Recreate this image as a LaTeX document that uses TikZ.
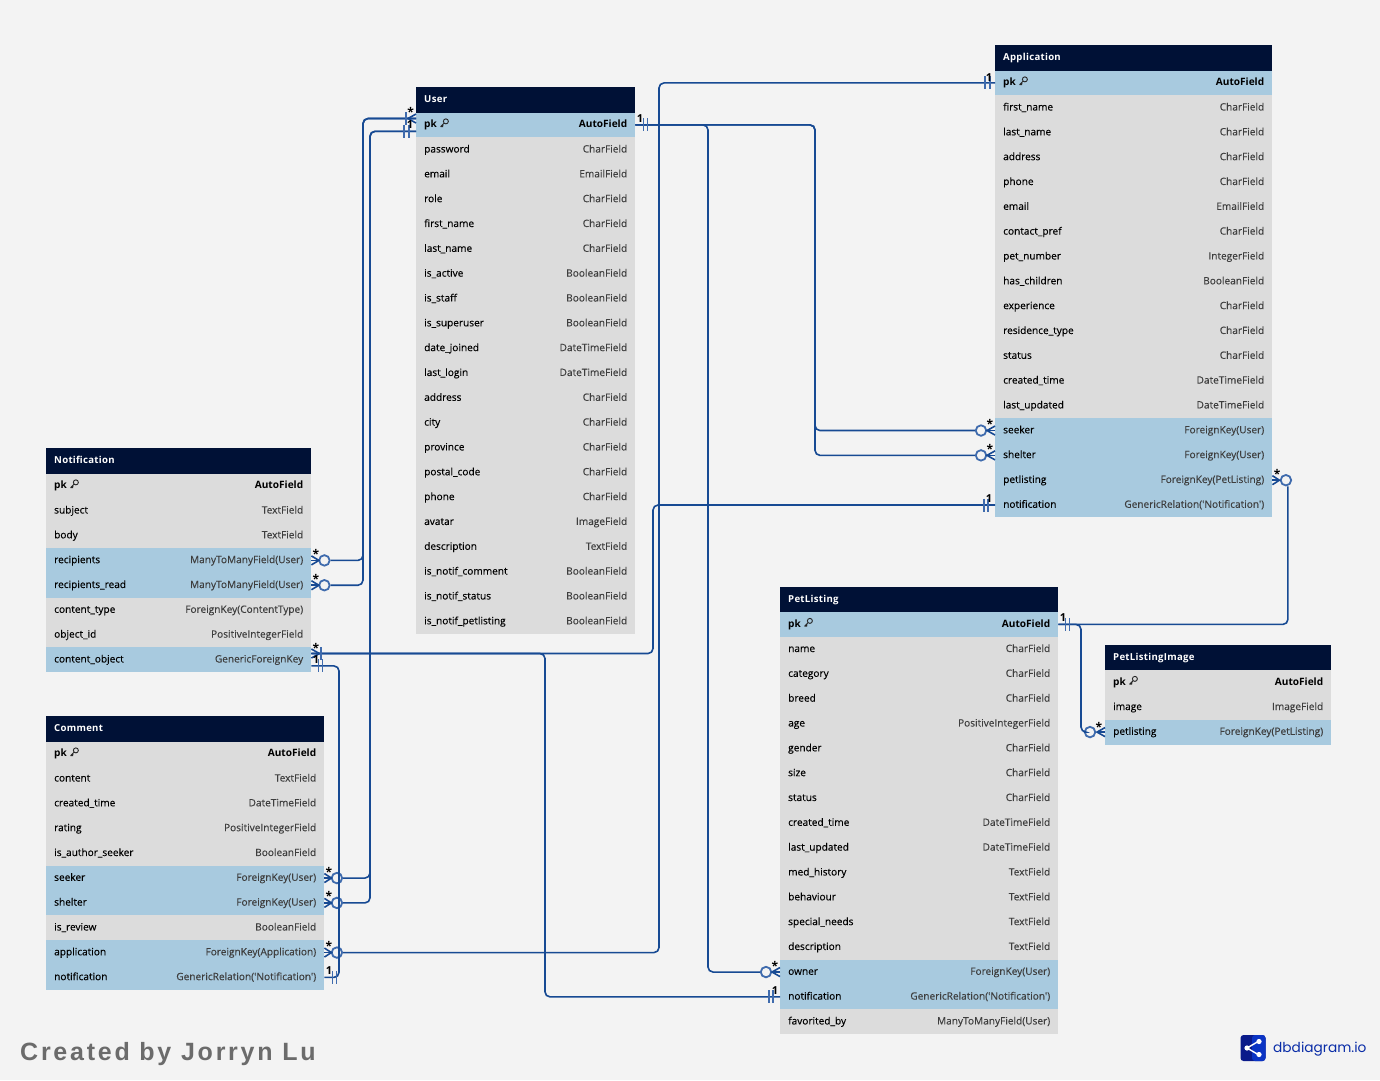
\documentclass[tikz,border=0pt]{standalone}
\usepackage{fontspec}
\usepackage{xcolor}
\usepackage{tikz}
\usetikzlibrary{positioning}
\newfontfamily\dbfont[UprightFeatures={FakeBold=0.25}]{Open Sans}
\newfontfamily\dbheadfont[LetterSpace=3]{Open Sans}
\newfontfamily\markfont[LetterSpace=11]{Liberation Sans}
\newfontfamily\logofont{Poppins}
\definecolor{pagebg}{HTML}{F3F3F3}
\definecolor{headbg}{HTML}{001136}
\definecolor{rowgray}{HTML}{DCDCDC}
\definecolor{rowblue}{HTML}{A8CADF}
\definecolor{typegray}{HTML}{3E3E3E}
\definecolor{relblue}{HTML}{174A93}
\definecolor{markblue}{HTML}{3F6BAD}
\definecolor{logodark}{HTML}{0A1A8A}
\definecolor{logoblue}{HTML}{0B34C4}
\tikzset{
    node distance = 24.83pt,                    % One table row
    dbrow/.style={rectangle, inner xsep=8pt, inner ysep=0pt, minimum height=24.83pt,
        text height=8pt, text depth=2.5pt, text=black, font=\dbfont\fontsize{10.1}{12}\selectfont},
    rowg/.style={dbrow, fill=rowgray},
    rowb/.style={dbrow, fill=rowblue},
    dbhead/.style={dbrow, fill=headbg, text=white, anchor=west, minimum height=25.5pt,
        font=\dbheadfont\bfseries\fontsize{9.6}{12}\selectfont},
    rel/.style={draw=relblue, line width=1.6pt, rounded corners=5pt},
    barline/.style={draw=markblue, line width=1.8pt},
    optmark/.style={circle, draw=markblue, fill=pagebg, line width=1.8pt, minimum size=10.5pt, inner sep=0pt},
    card/.style={inner sep=0pt, text=black, font=\dbfont\bfseries\fontsize{11}{12}\selectfont},
    cardstar/.style={card, anchor=north, font=\dbfont\bfseries\fontsize{12}{12}\selectfont}
}
\newcommand{\ty}[1]{\textcolor{typegray}{#1}}
\newcommand{\keyicon}{\tikz[baseline=-0.5pt, x=1pt, y=1pt]{\draw[black!85, line width=0.9pt, line join=round]
    (6.2,5.8) circle (2.5pt) (4.5,4) -- (1,0.5) -- (3.4,0.5) (2.2,1.7) -- (3.8,1.7);}}
\newcommand{\crowmark}[2]{\draw[rel, sharp corners] ([yshift=4.5pt]#1) -- ([xshift=#2pt]#1) -- ([yshift=-4.5pt]#1);
    \draw[rel] (#1) -- ([xshift=#2pt]#1);}
\newcommand{\barmark}[2]{\draw[barline] ([xshift=#2pt, yshift=6.5pt]#1) -- ([xshift=#2pt, yshift=-6.5pt]#1);}
\begin{document}
\begin{tikzpicture}[x=1pt, y=-1pt]
            \fill[pagebg] (0,0) rectangle (1380,1080);

            % User
            \begin{scope}[every node/.append style={text width=203pt}]
            \node [dbhead] (user) at (416,100.08) {User};
            \node [rowb, below of = user] (user-pk) {\textbf{pk} \keyicon\hfill\textbf{AutoField}};
            \node [rowg, below of = user-pk] (user-password) {password\hfill\ty{CharField}};
            \node [rowg, below of = user-password] (user-email) {email\hfill\ty{EmailField}};
            \node [rowg, below of = user-email] (user-role) {role\hfill\ty{CharField}};
            \node [rowg, below of = user-role] (user-first) {first\_name\hfill\ty{CharField}};
            \node [rowg, below of = user-first] (user-last) {last\_name\hfill\ty{CharField}};
            \node [rowg, below of = user-last] (user-active) {is\_active\hfill\ty{BooleanField}};
            \node [rowg, below of = user-active] (user-staff) {is\_staff\hfill\ty{BooleanField}};
            \node [rowg, below of = user-staff] (user-super) {is\_superuser\hfill\ty{BooleanField}};
            \node [rowg, below of = user-super] (user-joined) {date\_joined\hfill\ty{DateTimeField}};
            \node [rowg, below of = user-joined] (user-login) {last\_login\hfill\ty{DateTimeField}};
            \node [rowg, below of = user-login] (user-address) {address\hfill\ty{CharField}};
            \node [rowg, below of = user-address] (user-city) {city\hfill\ty{CharField}};
            \node [rowg, below of = user-city] (user-province) {province\hfill\ty{CharField}};
            \node [rowg, below of = user-province] (user-postal) {postal\_code\hfill\ty{CharField}};
            \node [rowg, below of = user-postal] (user-phone) {phone\hfill\ty{CharField}};
            \node [rowg, below of = user-phone] (user-avatar) {avatar\hfill\ty{ImageField}};
            \node [rowg, below of = user-avatar] (user-desc) {description\hfill\ty{TextField}};
            \node [rowg, below of = user-desc] (user-ncomment) {is\_notif\_comment\hfill\ty{BooleanField}};
            \node [rowg, below of = user-ncomment] (user-nstatus) {is\_notif\_status\hfill\ty{BooleanField}};
            \node [rowg, below of = user-nstatus] (user-npet) {is\_notif\_petlisting\hfill\ty{BooleanField}};
            \end{scope}

            % Application
            \begin{scope}[every node/.append style={text width=261pt}]
            \node [dbhead] (app) at (995,58.08) {Application};
            \node [rowb, below of = app] (app-pk) {\textbf{pk} \keyicon\hfill\textbf{AutoField}};
            \node [rowg, below of = app-pk] (app-first) {first\_name\hfill\ty{CharField}};
            \node [rowg, below of = app-first] (app-last) {last\_name\hfill\ty{CharField}};
            \node [rowg, below of = app-last] (app-address) {address\hfill\ty{CharField}};
            \node [rowg, below of = app-address] (app-phone) {phone\hfill\ty{CharField}};
            \node [rowg, below of = app-phone] (app-email) {email\hfill\ty{EmailField}};
            \node [rowg, below of = app-email] (app-contact) {contact\_pref\hfill\ty{CharField}};
            \node [rowg, below of = app-contact] (app-number) {pet\_number\hfill\ty{IntegerField}};
            \node [rowg, below of = app-number] (app-children) {has\_children\hfill\ty{BooleanField}};
            \node [rowg, below of = app-children] (app-exp) {experience\hfill\ty{CharField}};
            \node [rowg, below of = app-exp] (app-residence) {residence\_type\hfill\ty{CharField}};
            \node [rowg, below of = app-residence] (app-status) {status\hfill\ty{CharField}};
            \node [rowg, below of = app-status] (app-created) {created\_time\hfill\ty{DateTimeField}};
            \node [rowg, below of = app-created] (app-updated) {last\_updated\hfill\ty{DateTimeField}};
            \node [rowb, below of = app-updated] (app-seeker) {seeker\hfill\ty{ForeignKey(User)}};
            \node [rowb, below of = app-seeker] (app-shelter) {shelter\hfill\ty{ForeignKey(User)}};
            \node [rowb, below of = app-shelter] (app-pet) {petlisting\hfill\ty{ForeignKey(PetListing)}};
            \node [rowb, below of = app-pet] (app-notif) {notification\hfill\ty{GenericRelation('Notification')}};
            \end{scope}

            % Notification
            \begin{scope}[every node/.append style={text width=249pt}]
            \node [dbhead] (notif) at (46,461.08) {Notification};
            \node [rowg, below of = notif] (notif-pk) {\textbf{pk} \keyicon\hfill\textbf{AutoField}};
            \node [rowg, below of = notif-pk] (notif-subject) {subject\hfill\ty{TextField}};
            \node [rowg, below of = notif-subject] (notif-body) {body\hfill\ty{TextField}};
            \node [rowb, below of = notif-body] (notif-rec) {recipients\hfill\ty{ManyToManyField(User)}};
            \node [rowb, below of = notif-rec] (notif-read) {recipients\_read\hfill\ty{ManyToManyField(User)}};
            \node [rowg, below of = notif-read] (notif-ctype) {content\_type\hfill\ty{ForeignKey(ContentType)}};
            \node [rowg, below of = notif-ctype] (notif-objid) {object\_id\hfill\ty{PositiveIntegerField}};
            \node [rowb, below of = notif-objid] (notif-obj) {content\_object\hfill\ty{GenericForeignKey}};
            \end{scope}

            % Comment
            \begin{scope}[every node/.append style={text width=262pt}]
            \node [dbhead] (comment) at (46,729.08) {Comment};
            \node [rowg, below of = comment] (comment-pk) {\textbf{pk} \keyicon\hfill\textbf{AutoField}};
            \node [rowg, below of = comment-pk] (comment-content) {content\hfill\ty{TextField}};
            \node [rowg, below of = comment-content] (comment-created) {created\_time\hfill\ty{DateTimeField}};
            \node [rowg, below of = comment-created] (comment-rating) {rating\hfill\ty{PositiveIntegerField}};
            \node [rowg, below of = comment-rating] (comment-author) {is\_author\_seeker\hfill\ty{BooleanField}};
            \node [rowb, below of = comment-author] (comment-seeker) {seeker\hfill\ty{ForeignKey(User)}};
            \node [rowb, below of = comment-seeker] (comment-shelter) {shelter\hfill\ty{ForeignKey(User)}};
            \node [rowg, below of = comment-shelter] (comment-review) {is\_review\hfill\ty{BooleanField}};
            \node [rowb, below of = comment-review] (comment-app) {application\hfill\ty{ForeignKey(Application)}};
            \node [rowb, below of = comment-app] (comment-notif) {notification\hfill\ty{GenericRelation('Notification')}};
            \end{scope}

            % PetListing
            \begin{scope}[every node/.append style={text width=262pt}]
            \node [dbhead] (pet) at (780,599.58) {PetListing};
            \node [rowb, below of = pet] (pet-pk) {\textbf{pk} \keyicon\hfill\textbf{AutoField}};
            \node [rowg, below of = pet-pk] (pet-name) {name\hfill\ty{CharField}};
            \node [rowg, below of = pet-name] (pet-category) {category\hfill\ty{CharField}};
            \node [rowg, below of = pet-category] (pet-breed) {breed\hfill\ty{CharField}};
            \node [rowg, below of = pet-breed] (pet-age) {age\hfill\ty{PositiveIntegerField}};
            \node [rowg, below of = pet-age] (pet-gender) {gender\hfill\ty{CharField}};
            \node [rowg, below of = pet-gender] (pet-size) {size\hfill\ty{CharField}};
            \node [rowg, below of = pet-size] (pet-status) {status\hfill\ty{CharField}};
            \node [rowg, below of = pet-status] (pet-created) {created\_time\hfill\ty{DateTimeField}};
            \node [rowg, below of = pet-created] (pet-updated) {last\_updated\hfill\ty{DateTimeField}};
            \node [rowg, below of = pet-updated] (pet-history) {med\_history\hfill\ty{TextField}};
            \node [rowg, below of = pet-history] (pet-behaviour) {behaviour\hfill\ty{TextField}};
            \node [rowg, below of = pet-behaviour] (pet-needs) {special\_needs\hfill\ty{TextField}};
            \node [rowg, below of = pet-needs] (pet-desc) {description\hfill\ty{TextField}};
            \node [rowb, below of = pet-desc] (pet-owner) {owner\hfill\ty{ForeignKey(User)}};
            \node [rowb, below of = pet-owner] (pet-notif) {notification\hfill\ty{GenericRelation('Notification')}};
            \node [rowg, below of = pet-notif] (pet-fav) {favorited\_by\hfill\ty{ManyToManyField(User)}};
            \end{scope}

            % PetListingImage
            \begin{scope}[every node/.append style={text width=210pt}]
            \node [dbhead] (img) at (1105,657.58) {PetListingImage};
            \node [rowg, below of = img] (img-pk) {\textbf{pk} \keyicon\hfill\textbf{AutoField}};
            \node [rowg, below of = img-pk] (img-image) {image\hfill\ty{ImageField}};
            \node [rowb, below of = img-image] (img-pet) {petlisting\hfill\ty{ForeignKey(PetListing)}};
            \end{scope}

            % Connector ends and the columns they run along
            \coordinate (user-top) at ([yshift=6.4pt]user-pk.west);
            \coordinate (user-low) at ([yshift=-6.4pt]user-pk.west);
            \coordinate (obj-top) at ([yshift=6.2pt]notif-obj.east);
            \coordinate (obj-low) at ([yshift=-6.2pt]notif-obj.east);
            \coordinate (busa) at (363,0);
            \coordinate (busb) at (370,0);
            \coordinate (busc) at (659,0);
            \coordinate (busd) at (653,0);
            \coordinate (buse) at (545,0);
            \coordinate (busf) at (708,0);
            \coordinate (busg) at (815,0);
            \coordinate (busi) at (1081,0);
            \coordinate (busj) at (339,0);

            \node [optmark] (notif-rec-o) at ([xshift=13pt]notif-rec.east) {};
            \node [optmark] (notif-read-o) at ([xshift=13pt]notif-read.east) {};
            \node [optmark] (comment-seeker-o) at ([xshift=12.5pt]comment-seeker.east) {};
            \node [optmark] (comment-shelter-o) at ([xshift=12.5pt]comment-shelter.east) {};
            \node [optmark] (comment-app-o) at ([xshift=12.5pt]comment-app.east) {};
            \node [optmark] (app-seeker-o) at ([xshift=-14pt]app-seeker.west) {};
            \node [optmark] (app-shelter-o) at ([xshift=-14pt]app-shelter.west) {};
            \node [optmark] (app-pet-o) at ([xshift=13.5pt]app-pet.east) {};
            \node [optmark] (pet-owner-o) at ([xshift=-14pt]pet-owner.west) {};
            \node [optmark] (img-pet-o) at ([xshift=-15pt]img-pet.west) {};

            \draw [rel] (user-top) -| (busa |- notif-rec-o) -- (notif-rec-o);
            \draw [rel] (user-top) -| (busa |- notif-read-o) -- (notif-read-o);
            \draw [rel] (user-low) -| (busb |- comment-seeker-o) -- (comment-seeker-o);
            \draw [rel] (user-low) -| (busb |- comment-shelter-o) -- (comment-shelter-o);
            \draw [rel] (comment-app-o) -| (busc |- app-pk.west) -- (app-pk.west);
            \draw [rel] (obj-top) -| (busd |- app-notif.west) -- (app-notif.west);
            \draw [rel] (obj-top) -| (buse |- pet-notif.west) -- (pet-notif.west);
            \draw [rel] (obj-low) -| (busj |- comment-notif.east) -- (comment-notif.east);
            \draw [rel] (user-pk.east) -| (busf |- pet-owner-o) -- (pet-owner-o);
            \draw [rel] (user-pk.east) -| (busg |- app-seeker-o) -- (app-seeker-o);
            \draw [rel] (user-pk.east) -| (busg |- app-shelter-o) -- (app-shelter-o);
            \draw [rel] (pet-pk.east) -| (busi |- img-pet-o) -- (img-pet-o);
            \draw [rel] (pet-pk.east) -| ([xshift=2pt]app-pet-o.south);

            % Crow's feet
            \crowmark{user-top}{-8}
            \crowmark{notif-rec.east}{7.5}
            \crowmark{notif-read.east}{7.5}
            \crowmark{obj-top}{8}
            \crowmark{comment-seeker.east}{7}
            \crowmark{comment-shelter.east}{7}
            \crowmark{comment-app.east}{7}
            \crowmark{app-seeker.west}{-8}
            \crowmark{app-shelter.west}{-8}
            \crowmark{app-pet.east}{7}
            \crowmark{pet-owner.west}{-8}
            \crowmark{img-pet.west}{-8}

            % Bars
            \barmark{user-top}{-10}
            \barmark{user-low}{-12}
            \barmark{user-low}{-7}
            \barmark{obj-top}{9.5}
            \barmark{obj-low}{7}
            \barmark{obj-low}{11}
            \barmark{comment-notif.east}{8}
            \barmark{comment-notif.east}{12}
            \barmark{user-pk.east}{8}
            \barmark{user-pk.east}{12}
            \barmark{app-pk.west}{-10}
            \barmark{app-pk.west}{-5}
            \barmark{app-notif.west}{-11}
            \barmark{app-notif.west}{-7}
            \barmark{pet-pk.east}{7}
            \barmark{pet-pk.east}{11}
            \barmark{pet-notif.west}{-11}
            \barmark{pet-notif.west}{-7}

            % Cardinalities
            \node [cardstar] (star-user) at (410.7,107) {*};
            \node [cardstar] (star-rec) at (316,549.5) {*};
            \node [cardstar] (star-read) at (316,574) {*};
            \node [cardstar] (star-obj) at (316,643) {*};
            \node [cardstar] (star-cseeker) at (329,867) {*};
            \node [cardstar] (star-cshelter) at (329,891) {*};
            \node [cardstar] (star-capp) at (329,941) {*};
            \node [cardstar] (star-aseeker) at (990,419.5) {*};
            \node [cardstar] (star-ashelter) at (990,444) {*};
            \node [cardstar] (star-apet) at (1277,469) {*};
            \node [cardstar] (star-powner) at (775,961) {*};
            \node [cardstar] (star-img) at (1099,722) {*};
            \node [card] (one-user) at (410,125) {1};
            \node [card] (one-obj) at (316,660) {1};
            \node [card] (one-comment) at (329,971) {1};
            \node [card] (one-userpk) at (640,119) {1};
            \node [card] (one-apppk) at (989,78) {1};
            \node [card] (one-appnotif) at (989,499) {1};
            \node [card] (one-petpk) at (1063,618) {1};
            \node [card] (one-petnotif) at (775,990.5) {1};

            % Signature and logo
            \node [anchor=west, inner sep=0pt, text=black!58, font=\markfont\bfseries\fontsize{25}{28}\selectfont] (signature) at (20,1054.5) {Created by Jorryn Lu};
            \fill [logodark, rounded corners=3pt] (1240.5,1035) rectangle (1265.5,1061);
            \fill [logoblue, rounded corners=3pt] (1252,1035) rectangle (1265.5,1061);
            \draw [white, line width=1.4pt] (1259,1041) -- (1247,1048) -- (1259,1055);
            \fill [white] (1247,1048) circle (2.6pt) (1259,1041.5) circle (2.6pt) (1259,1054.5) circle (2.6pt);
            \node [anchor=west, inner sep=0pt, text=logoblue!85!black, font=\logofont\fontsize{13.7}{18}\selectfont] (logo) at (1273,1049.5) {dbdiagram.io};
        \end{tikzpicture}
\end{document}
